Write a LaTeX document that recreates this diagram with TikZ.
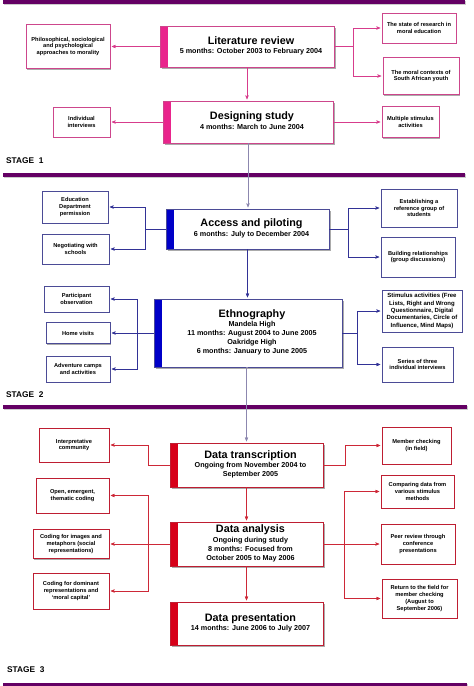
\documentclass[tikz,border=0pt]{standalone}
\usepackage{fontspec}
\setmainfont{Liberation Sans}
\usepackage{tikz}
\usetikzlibrary{arrows,shadows,calc,positioning}
\definecolor{onestrip}{RGB}{233,36,140}
\definecolor{oneline}{RGB}{205,70,140}
\definecolor{onewire}{RGB}{215,60,140}
\definecolor{twostrip}{RGB}{0,0,200}
\definecolor{twoline}{RGB}{75,75,150}
\definecolor{twowire}{RGB}{50,50,150}
\definecolor{threestrip}{RGB}{215,0,25}
\definecolor{threeline}{RGB}{190,30,50}
\definecolor{threewire}{RGB}{205,40,55}
\definecolor{bridgewire}{RGB}{140,135,175}
\definecolor{stagebar}{RGB}{100,0,100}
\newcommand{\phasetext}[2]{\hspace*{8pt}\begin{tabular}{@{}c@{}}{\fontsize{10.8}{13}\selectfont #1}\\[0.7pt]#2\end{tabular}}
\tikzset{
  dims/.style 2 args={minimum width=#1pt, minimum height=#2pt},
  phase/.style={draw=#1line, line width=0.5pt, fill=white, inner sep=0pt,
    path picture={\fill[#1strip] (path picture bounding box.south west) rectangle ([xshift=8pt]path picture bounding box.north west);},
    drop shadow={shadow xshift=1.6pt, shadow yshift=-1.6pt, fill=black!55, opacity=.6},
    font=\bfseries\fontsize{7.2}{9}\selectfont},
  aside/.style={draw=#1line, line width=0.5pt, fill=white, align=center, inner sep=1pt,
    drop shadow={shadow xshift=1.4pt, shadow yshift=-1.4pt, fill=black!55, opacity=.6},
    font=\bfseries\fontsize{5.7}{6.9}\selectfont},
  link/.style={draw=#1wire, line width=0.5pt, ->},
  stagelabel/.style={anchor=west, inner sep=0pt, font=\bfseries\fontsize{8.3}{10}\selectfont},
  stagebar/.style={fill=stagebar, drop shadow={shadow xshift=1pt, shadow yshift=-1pt, fill=black!40, opacity=.5}}
}
\begin{document}
\begin{tikzpicture}[x=1pt, y=-1pt, >=stealth', shorten >=1.5pt]
			\useasboundingbox (0,0) rectangle (474,686);
			\fill[stagebar] (3,0) rectangle (465,4);
			\fill[stagebar] (3,173) rectangle (465,176.5);
			\fill[stagebar] (3,405) rectangle (467,408.5);
			\fill[stagebar] (3,682.5) rectangle (467,686);
			
			\node[phase=one, dims={174}{41}] (lit) at (247,46.5) {\phasetext{Literature review}{5 months: October 2003 to February 2004}};
			\node[phase=one, dims={170}{42}] (design) at (248,122) {\phasetext{Designing study}{4 months: March to June 2004}};
			\node[aside=one, dims={84}{44}] (phil) at (68,46.5) {Philosophical, sociological\\and psychological\\approaches to morality};
			\node[aside=one, dims={74}{30}] (state) at (419,28) {The state of research in\\moral education};
			\node[aside=one, dims={76}{37}] (moral) at (421,76) {The moral contexts of\\South African youth};
			\node[aside=one, dims={57}{30}] (indiv) at (81.5,122) {Individual\\interviews};
			\node[aside=one, dims={57}{31}] (multi) at (410.5,122) {Multiple stimulus\\activities};
			\node[stagelabel] (stage1) at (6,161) {STAGE\ \ 1};
			
			\node[phase=two, dims={163}{40}] (access) at (247.5,229) {\phasetext{Access and piloting}{6 months: July to December 2004}};
			\node[phase=two, dims={188}{68}] (ethno) at (248,333) {\phasetext{Ethnography}{Mandela High\\11 months: August 2004 to June 2005\\Oakridge High\\6 months: January to June 2005}};
			\node[aside=two, dims={66}{32}] (edu) at (75,207) {Education\\Department\\permission};
			\node[aside=two, dims={67}{30}] (nego) at (75.5,249) {Negotiating with\\schools};
			\node[aside=two, dims={76}{38}] (estab) at (419,208) {Establishing a\\reference group of\\students};
			\node[aside=two, dims={74}{40}] (build) at (418,257) {Building relationships\\(group discussions)};
			\node[aside=two, dims={65}{26}] (partic) at (76.5,299) {Participant\\observation};
			\node[aside=two, dims={64}{21}] (home) at (78,333) {Home visits};
			\node[aside=two, dims={64}{26}] (advent) at (78,369) {Adventure camps\\and activities};
			\node[aside=two, dims={80}{42}, font=\bfseries\fontsize{6}{7.4}\selectfont] (stimu) at (422,311) {Stimulus activities (Free\\Lists, Right and Wrong\\Questionnaire, Digital\\Documentaries, Circle of\\Influence, Mind Maps)};
			\node[aside=two, dims={71}{35}] (series) at (417.5,364.5) {Series of three\\individual interviews};
			\node[stagelabel] (stage2) at (6,395) {STAGE\ \ 2};
			
			\node[phase=three, dims={153}{44}] (trans) at (246.5,465) {\phasetext{Data transcription}{Ongoing from November 2004 to\\September 2005}};
			\node[phase=three, dims={153}{44}] (analysis) at (246.5,544) {\phasetext{Data analysis}{Ongoing during study\\8 months: Focused from\\October 2005 to May 2006}};
			\node[phase=three, dims={153}{43}] (present) at (246.5,623.5) {\phasetext{Data presentation}{14 months: June 2006 to July 2007}};
			\node[aside=three, dims={70}{34}] (interp) at (74,445) {Interpretative\\community};
			\node[aside=three, dims={69}{37}] (member) at (416.5,445.5) {Member checking\\(in field)};
			\node[aside=three, dims={73}{35}] (open) at (72.5,495.5) {Open, emergent,\\thematic coding};
			\node[aside=three, dims={76}{29}] (codimg) at (71,544) {Coding for images and\\metaphors (social\\representations)};
			\node[aside=three, dims={76}{36}] (coddom) at (71,591) {Coding for dominant\\representations and\\`moral capital'};
			\node[aside=three, dims={73}{33}] (compar) at (417.5,491.5) {Comparing data from\\various stimulus\\methods};
			\node[aside=three, dims={74}{40}] (peer) at (418,544) {Peer review through\\conference\\presentations};
			\node[aside=three, dims={75}{39}] (return) at (419.5,598.5) {Return to the field for\\member checking\\(August to\\September 2006)};
			\node[stagelabel] (stage3) at (7,670) {STAGE\ \ 3};
			
			\draw[link=one] (lit.west) -- (lit.west -| phil.east);
			\draw[link=one] (lit.east) -- ++(19,0) coordinate (litR) |- (state.west);
			\draw[link=one] (litR) |- (moral.west);
			\draw[link=one] (lit.south) -- (lit.south |- design.north);
			\draw[link=one] (design.west) -- (indiv.east);
			\draw[link=one] (design.east) -- (multi.west);
			\draw[link=bridge] (design.south) -- (design.south |- access.north);
			
			\draw[link=two] (access.west) -- ++(-21,0) coordinate (accessL) |- (edu.east);
			\draw[link=two] (accessL) |- (nego.east);
			\draw[link=two] (access.east) -- ++(19,0) coordinate (accessR) |- (estab.west);
			\draw[link=two] (accessR) |- (build.west);
			\draw[link=two] (access.south) -- (access.south |- ethno.north);
			\draw[link=two] (ethno.west) -- (ethno.west -| home.east);
			\path (ethno.west) ++(-17,0) coordinate (ethnoL);
			\draw[link=two] (ethnoL) |- (partic.east);
			\draw[link=two] (ethnoL) |- (advent.east);
			\draw[link=two] (ethno.east) -- ++(15,0) coordinate (ethnoR) |- (stimu.west);
			\draw[link=two] (ethnoR) |- (series.west);
			\draw[link=bridge] (ethno.south) -- (ethno.south -| trans.north) -- (trans.north);
			
			\draw[link=three] (trans.west) -- ++(-22,0) |- (interp.east);
			\draw[link=three] (trans.east) -- ++(22,0) |- (member.west);
			\draw[link=three] (trans.south) -- (analysis.north);
			\draw[link=three] (analysis.south) -- (present.north);
			\draw[link=three] (analysis.west) -- (codimg.east);
			\path (analysis.west) ++(-22,0) coordinate (analysisL);
			\draw[link=three] (analysisL) |- (open.east);
			\draw[link=three] (analysisL) |- (coddom.east);
			\draw[link=three] (analysis.east) -- (peer.west);
			\path (analysis.east) ++(21,0) coordinate (analysisR);
			\draw[link=three] (analysisR) |- (compar.west);
			\draw[link=three] (analysisR) |- (return.west);
\end{tikzpicture}
\end{document}
